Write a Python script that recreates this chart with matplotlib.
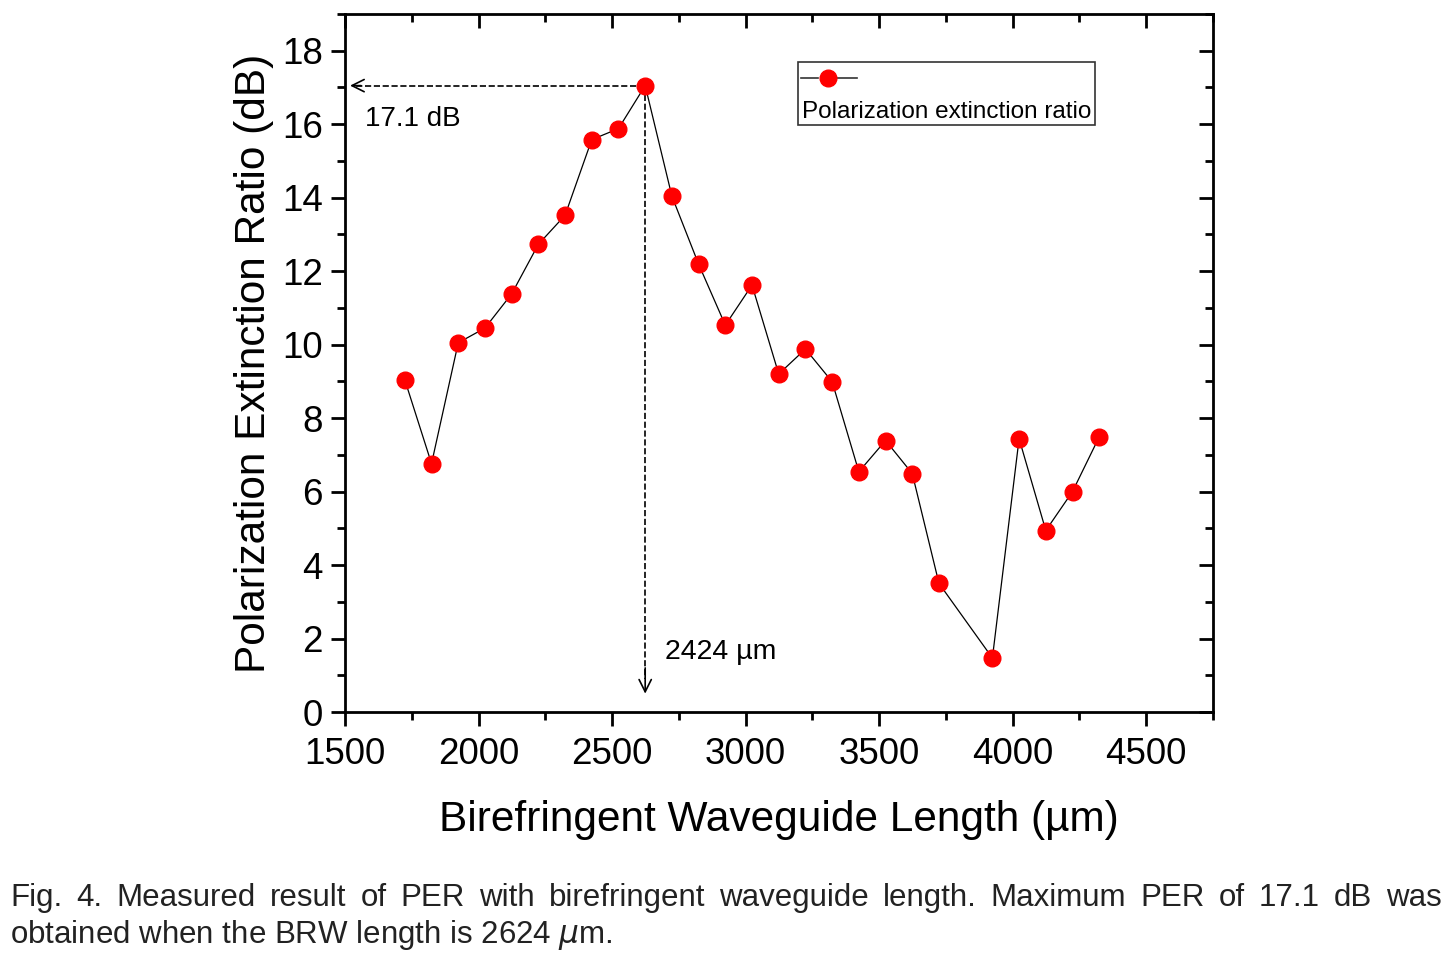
import numpy as np
import matplotlib
matplotlib.use('Agg')
import matplotlib.pyplot as plt
from matplotlib.ticker import MultipleLocator
from matplotlib.patches import Rectangle

plt.rcParams['font.family'] = ['Liberation Sans', 'DejaVu Sans']
plt.rcParams['mathtext.fontset'] = 'dejavusans'

# данные
length_um = [1724, 1824, 1924, 2024, 2124, 2224, 2324, 2424, 2524, 2624,
             2724, 2824, 2924, 3024, 3124, 3224, 3324, 3424, 3524, 3624,
             3724, 3924, 4024, 4124, 4224, 4324]
per_db = [9.04, 6.76, 10.05, 10.45, 11.38, 12.73, 13.52, 15.58, 15.88, 17.05,
          14.04, 12.19, 10.53, 11.62, 9.20, 9.88, 8.99, 6.54, 7.39, 6.49,
          3.50, 1.47, 7.44, 4.94, 6.00, 7.49]

peak_x = 2624
peak_y = 17.05

fig = plt.figure(figsize=(14.52, 9.57), dpi=100)
ax = fig.add_axes([0.2376, 0.256, 0.5978, 0.7294])

ax.plot(length_um, per_db, color='black', lw=0.9, marker='o', ms=12,
        mfc='red', mec='red', zorder=3)

ax.set_xlim(1500, 4750)
ax.set_ylim(0, 19)
ax.xaxis.set_major_locator(MultipleLocator(500))
ax.xaxis.set_minor_locator(MultipleLocator(250))
ax.yaxis.set_major_locator(MultipleLocator(2))
ax.yaxis.set_minor_locator(MultipleLocator(1))
ax.tick_params(which='major', direction='out', length=10, width=2, labelsize=26.5, pad=6)
ax.tick_params(axis='x', which='major', pad=8)
ax.tick_params(which='minor', direction='out', length=6, width=2)
for s in ax.spines.values():
    s.set_linewidth(2)

# верхняя и правая оси: тики внутрь
top = ax.secondary_xaxis('top')
top.xaxis.set_major_locator(MultipleLocator(500))
top.xaxis.set_minor_locator(MultipleLocator(250))
top.tick_params(which='major', direction='in', length=10, width=2, labeltop=False)
top.tick_params(which='minor', direction='in', length=6, width=2)
right = ax.secondary_yaxis('right')
right.yaxis.set_major_locator(MultipleLocator(2))
right.yaxis.set_minor_locator(MultipleLocator(1))
right.tick_params(which='major', direction='in', length=10, width=2, labelright=False)
right.tick_params(which='minor', direction='in', length=6, width=2)

ax.set_xlabel('Birefringent Waveguide Length (µm)', fontsize=30.5, labelpad=20)
ax.set_ylabel('Polarization Extinction Ratio (dB)', fontsize=30.5, labelpad=6)

# пунктирные линии к максимуму, наконечники сплошные
ax.plot([peak_x, 1535], [peak_y, peak_y], ls='--', lw=1.2, color='black', zorder=2)
ax.plot([peak_x, peak_x], [peak_y, 0.9], ls='--', lw=1.2, color='black', zorder=2)
ax.annotate('', xy=(1519, peak_y), xytext=(1560, peak_y),
            arrowprops=dict(arrowstyle='->', lw=1.2, color='black',
                            mutation_scale=22, shrinkA=0, shrinkB=0))
ax.annotate('', xy=(peak_x, 0.5), xytext=(peak_x, 1.2),
            arrowprops=dict(arrowstyle='->', lw=1.2, color='black',
                            mutation_scale=22, shrinkA=0, shrinkB=0))
ax.text(1575, 16.15, '17.1 dB', fontsize=20, va='center', ha='left')
ax.text(2698, 1.63, '2424 µm', fontsize=20.5, va='center', ha='left')

# легенда вручную: маркер сверху, подпись снизу
ax.add_patch(Rectangle((0.522, 0.841), 0.342, 0.090, transform=ax.transAxes,
                       fill=False, ec='#333333', lw=1.2, zorder=4))
ax.plot([0.525, 0.545], [0.908, 0.908], transform=ax.transAxes, color='#333333',
        lw=1.2, zorder=5)
ax.plot([0.567, 0.590], [0.908, 0.908], transform=ax.transAxes, color='#333333',
        lw=1.2, zorder=5)
ax.plot([0.556], [0.908], transform=ax.transAxes, marker='o', ms=12,
        mfc='red', mec='red', zorder=6)
ax.text(0.527, 0.860, 'Polarization extinction ratio', transform=ax.transAxes,
        fontsize=17.5, va='center', ha='left', zorder=6)

# подпись к рисунку (выравнивание по ширине первой строки)
cap_color = '#222222'
cap_size = 22.5
line1 = 'Fig. 4. Measured result of PER with birefringent waveguide length. Maximum PER of 17.1 dB was'
line2 = r'obtained when the BRW length is 2624 $\mu$m.'
x_left, x_right = 10 / 1452, 1442 / 1452
y1 = 1 - 898 / 957
y2 = 1 - 935 / 957

fig.canvas.draw()
renderer = fig.canvas.get_renderer()
words = line1.split(' ')
texts = [fig.text(0, y1, w, fontsize=cap_size, color=cap_color, va='center', ha='left')
         for w in words]
widths = [t.get_window_extent(renderer).width / fig.bbox.width for t in texts]
gap = (x_right - x_left - sum(widths)) / (len(words) - 1)
x = x_left
for t, w in zip(texts, widths):
    t.set_x(x)
    x += w + gap
fig.text(x_left, y2, line2, fontsize=cap_size, color=cap_color, va='center', ha='left')

plt.savefig('out.png', dpi=100)
plt.close()
